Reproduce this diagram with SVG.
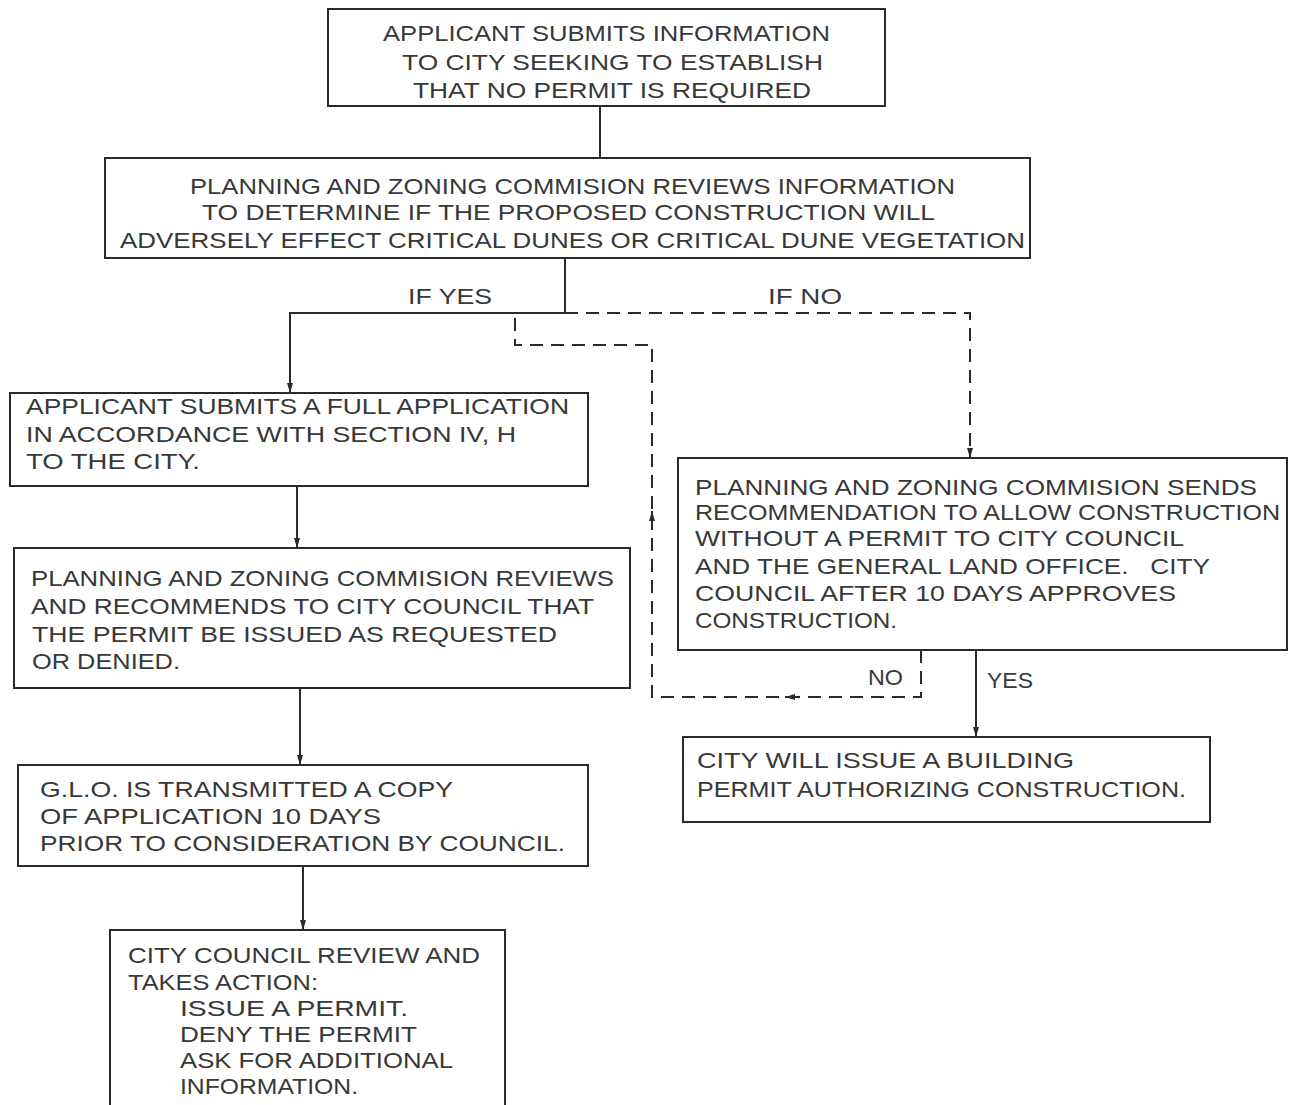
<svg xmlns="http://www.w3.org/2000/svg" width="1289" height="1105" viewBox="0 0 1289 1105">
<style>
  .box { fill: none; stroke: #2a2a2a; stroke-width: 2; }
  .t { font-family: "Liberation Sans", Arial, sans-serif; font-size: 22px; fill: #383838; }
  .line { fill: none; stroke: #2a2a2a; stroke-width: 2; }
  .dash { fill: none; stroke: #2a2a2a; stroke-width: 2; stroke-dasharray: 13 8; }
</style>
<defs>
  <marker id="arr" markerUnits="userSpaceOnUse" markerWidth="10" markerHeight="6" refX="10" refY="3" orient="auto">
    <path d="M0,0 L10,3 L0,6 z" fill="#2a2a2a"/>
  </marker>
</defs>
<rect width="1289" height="1105" fill="#ffffff"/>

<g id="connectors">
  <path class="line" d="M600,106 V158"/>
  <path class="line" d="M565,258 V313 H290 V393" marker-end="url(#arr)"/>
  <path class="dash" d="M565,313 H970 V458" marker-end="url(#arr)"/>
  <path class="line" d="M297,486 V548" marker-end="url(#arr)"/>
  <path class="line" d="M300,688 V765" marker-end="url(#arr)"/>
  <path class="line" d="M303,866 V930" marker-end="url(#arr)"/>
  <path class="line" d="M976,650 V737" marker-end="url(#arr)"/>
  <path class="dash" d="M921,650 V697 H652 V345 H515 V313"/>
  <path class="line" d="M797,697 H785" marker-end="url(#arr)"/>
  <path class="line" d="M652,523 V511" marker-end="url(#arr)"/>
  <text class="t" x="408" y="304" textLength="84" lengthAdjust="spacingAndGlyphs">IF YES</text>
  <text class="t" x="768" y="304" textLength="74" lengthAdjust="spacingAndGlyphs">IF NO</text>
  <text class="t" x="868" y="685" textLength="35" lengthAdjust="spacingAndGlyphs">NO</text>
  <text class="t" x="987" y="688" textLength="46" lengthAdjust="spacingAndGlyphs">YES</text>
</g>

<g id="node-submit-info">
  <rect class="box" x="328" y="9" width="557" height="97"/>
  <text class="t" x="383" y="41" textLength="447" lengthAdjust="spacingAndGlyphs">APPLICANT SUBMITS INFORMATION</text>
  <text class="t" x="402" y="70" textLength="421" lengthAdjust="spacingAndGlyphs">TO CITY SEEKING TO ESTABLISH</text>
  <text class="t" x="413" y="98" textLength="398" lengthAdjust="spacingAndGlyphs">THAT NO PERMIT IS REQUIRED</text>
</g>

<g id="node-pz-review">
  <rect class="box" x="105" y="158" width="925" height="100"/>
  <text class="t" x="190" y="194" textLength="765" lengthAdjust="spacingAndGlyphs">PLANNING AND ZONING COMMISION REVIEWS INFORMATION</text>
  <text class="t" x="202" y="220" textLength="733" lengthAdjust="spacingAndGlyphs">TO DETERMINE IF THE PROPOSED CONSTRUCTION WILL</text>
  <text class="t" x="120" y="248" textLength="905" lengthAdjust="spacingAndGlyphs">ADVERSELY EFFECT CRITICAL DUNES OR CRITICAL DUNE VEGETATION</text>
</g>

<g id="node-full-application">
  <rect class="box" x="10" y="393" width="578" height="93"/>
  <text class="t" x="26" y="414" textLength="543" lengthAdjust="spacingAndGlyphs">APPLICANT SUBMITS A FULL APPLICATION</text>
  <text class="t" x="26" y="442" textLength="490" lengthAdjust="spacingAndGlyphs">IN ACCORDANCE WITH SECTION IV, H</text>
  <text class="t" x="26" y="469" textLength="174" lengthAdjust="spacingAndGlyphs">TO THE CITY.</text>
</g>

<g id="node-pz-recommends">
  <rect class="box" x="14" y="548" width="616" height="140"/>
  <text class="t" x="31" y="586" textLength="583" lengthAdjust="spacingAndGlyphs">PLANNING AND ZONING COMMISION REVIEWS</text>
  <text class="t" x="31" y="614" textLength="563" lengthAdjust="spacingAndGlyphs">AND RECOMMENDS TO CITY COUNCIL THAT</text>
  <text class="t" x="32" y="642" textLength="525" lengthAdjust="spacingAndGlyphs">THE PERMIT BE ISSUED AS REQUESTED</text>
  <text class="t" x="32" y="669" textLength="148" lengthAdjust="spacingAndGlyphs">OR DENIED.</text>
</g>

<g id="node-glo">
  <rect class="box" x="18" y="765" width="570" height="101"/>
  <text class="t" x="40" y="797" textLength="413" lengthAdjust="spacingAndGlyphs">G.L.O. IS TRANSMITTED A COPY</text>
  <text class="t" x="40" y="824" textLength="341" lengthAdjust="spacingAndGlyphs">OF APPLICATION 10 DAYS</text>
  <text class="t" x="40" y="851" textLength="525" lengthAdjust="spacingAndGlyphs">PRIOR TO CONSIDERATION BY COUNCIL.</text>
</g>

<g id="node-council-action">
  <rect class="box" x="110" y="930" width="395" height="190"/>
  <text class="t" x="128" y="963" textLength="352" lengthAdjust="spacingAndGlyphs">CITY COUNCIL REVIEW AND</text>
  <text class="t" x="128" y="990" textLength="190" lengthAdjust="spacingAndGlyphs">TAKES ACTION:</text>
  <text class="t" x="180" y="1016" textLength="228" lengthAdjust="spacingAndGlyphs">ISSUE A PERMIT.</text>
  <text class="t" x="180" y="1042" textLength="237" lengthAdjust="spacingAndGlyphs">DENY THE PERMIT</text>
  <text class="t" x="180" y="1068" textLength="273" lengthAdjust="spacingAndGlyphs">ASK FOR ADDITIONAL</text>
  <text class="t" x="180" y="1094" textLength="178" lengthAdjust="spacingAndGlyphs">INFORMATION.</text>
</g>

<g id="node-pz-sends">
  <rect class="box" x="678" y="458" width="609" height="192"/>
  <text class="t" x="695" y="495" textLength="562" lengthAdjust="spacingAndGlyphs">PLANNING AND ZONING COMMISION SENDS</text>
  <text class="t" x="695" y="520" textLength="585" lengthAdjust="spacingAndGlyphs">RECOMMENDATION TO ALLOW CONSTRUCTION</text>
  <text class="t" x="695" y="546" textLength="489" lengthAdjust="spacingAndGlyphs">WITHOUT A PERMIT TO CITY COUNCIL</text>
  <text class="t" x="695" y="574" textLength="515" lengthAdjust="spacingAndGlyphs" xml:space="preserve">AND THE GENERAL LAND OFFICE.   CITY</text>
  <text class="t" x="695" y="601" textLength="481" lengthAdjust="spacingAndGlyphs">COUNCIL AFTER 10 DAYS APPROVES</text>
  <text class="t" x="695" y="628" textLength="202" lengthAdjust="spacingAndGlyphs">CONSTRUCTION.</text>
</g>

<g id="node-building-permit">
  <rect class="box" x="683" y="737" width="527" height="85"/>
  <text class="t" x="697" y="768" textLength="377" lengthAdjust="spacingAndGlyphs">CITY WILL ISSUE A BUILDING</text>
  <text class="t" x="697" y="797" textLength="489" lengthAdjust="spacingAndGlyphs">PERMIT AUTHORIZING CONSTRUCTION.</text>
</g>
</svg>
